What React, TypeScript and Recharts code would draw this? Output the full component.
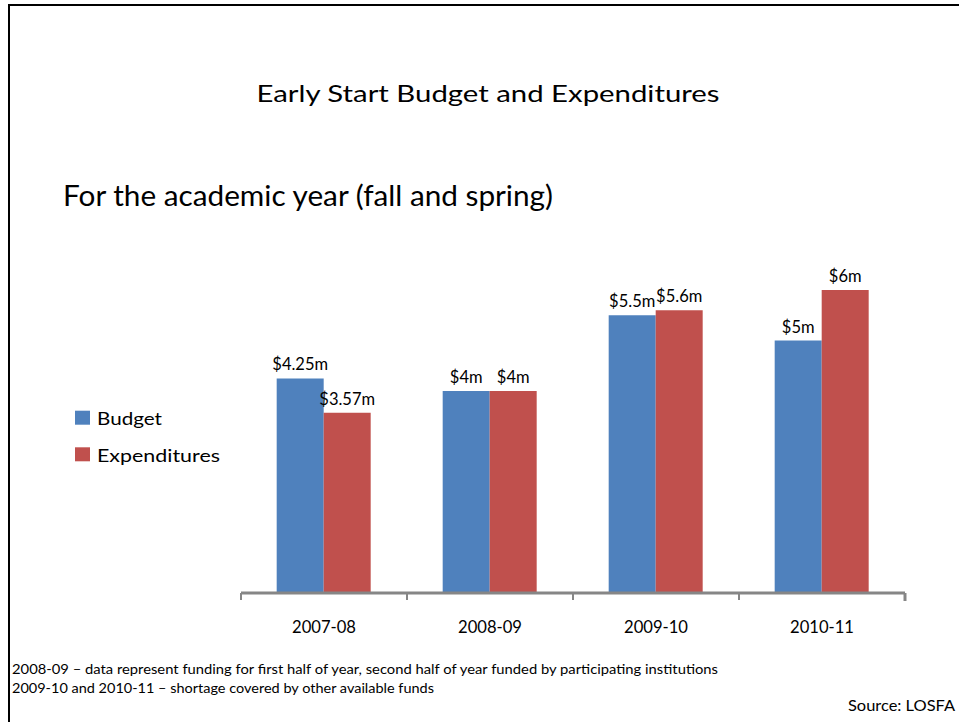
import React from "react";
import { BarChart, Bar, XAxis, YAxis, LabelList } from "recharts";

const years = ["2007-08", "2008-09", "2009-10", "2010-11"];
const budget = [4.25, 4, 5.5, 5];
const expenditures = [3.57, 4, 5.6, 6];

const seriesNames = ["Budget", "Expenditures"];
const seriesColors = ["#4F81BD", "#C0504D"];

const titleText = "Early Start Budget and Expenditures";
const subtitleText = "For the academic year (fall and spring)";
const footnotes = [
  "2008-09 \u2013 data represent funding for first half of year, second half of year funded by participating institutions",
  "2009-10 and 2010-11 \u2013 shortage  covered by other available funds",
];
const sourceText = "Source: LOSFA";

const data = years.map((y, i) => ({ year: y, budget: budget[i], expenditures: expenditures[i] }));

const W = 959;
const H = 722;
const PLOT_LEFT = 241;
const PLOT_RIGHT = 905;
const AXIS_Y = 593;
const BAND = (PLOT_RIGHT - PLOT_LEFT) / years.length;
const FONT = "Lato, 'Open Sans', sans-serif";
const AXIS_GRAY = "#868686";
const LEGEND_TEXT_LEN = [65, 123];

const fmt = (v: any) => `$${v}m`;

const renderTick = (props: any) => {
  const { x, payload, index } = props;
  return (
    <g>
      <text x={x} y={633} textAnchor="middle" fontSize={18} fontFamily={FONT} fill="#000" textLength={64} lengthAdjust="spacingAndGlyphs">
        {payload.value}
      </text>
      <line x1={x - BAND / 2} x2={x - BAND / 2} y1={AXIS_Y} y2={600} stroke={AXIS_GRAY} strokeWidth={2} />
      {index === years.length - 1 && (
        <line x1={x + BAND / 2} x2={x + BAND / 2} y1={AXIS_Y} y2={601} stroke={AXIS_GRAY} strokeWidth={3} />
      )}
    </g>
  );
};

export default function App() {
  return (
    <div
      style={{
        position: "absolute",
        left: 0,
        top: 0,
        width: W,
        height: H,
        background: "#fff",
        overflow: "hidden",
        fontFamily: FONT,
      }}
    >
      <div
        style={{
          position: "absolute",
          left: 7.5,
          top: 3.5,
          width: 1200,
          height: 1000,
          borderTop: "2px solid #000",
          borderLeft: "2.5px solid #000",
        }}
      />
      <svg width={W} height={H} style={{ position: "absolute", left: 0, top: 0 }}>
        <text x={488} y={102} textAnchor="middle" fontSize={24} fontFamily={FONT} fill="#000" textLength={463} lengthAdjust="spacingAndGlyphs">
          {titleText}
        </text>
        <text x={63} y={206} fontSize={29} fontFamily={FONT} fill="#000" textLength={490} lengthAdjust="spacingAndGlyphs">
          {subtitleText}
        </text>
        <text x={12} y={674} fontSize={14} fontFamily={FONT} fill="#000" textLength={706} lengthAdjust="spacingAndGlyphs">
          {footnotes[0]}
        </text>
        <text x={12} y={693} fontSize={14} fontFamily={FONT} fill="#000" textLength={422} lengthAdjust="spacingAndGlyphs">
          {footnotes[1]}
        </text>
        <text x={955} y={711} textAnchor="end" fontSize={16} fontFamily={FONT} fill="#000" textLength={107} lengthAdjust="spacingAndGlyphs">
          {sourceText}
        </text>
        {seriesNames.map((n, i) => (
          <g key={n}>
            <rect x={75} y={410.7 + i * 36.6} width={15} height={14} fill={seriesColors[i]} />
            <text x={97} y={425 + i * 36.6} fontSize={18} fontFamily={FONT} fill="#000" textLength={LEGEND_TEXT_LEN[i]} lengthAdjust="spacingAndGlyphs">
              {n}
            </text>
          </g>
        ))}
      </svg>
      <div style={{ position: "absolute", left: 0, top: 0 }}>
        <BarChart
          width={W}
          height={H}
          data={data}
          margin={{ top: 239.5, right: W - PLOT_RIGHT, bottom: 99, left: PLOT_LEFT }}
          barCategoryGap="21.5%"
          barGap={0}
        >
          <XAxis
            dataKey="year"
            height={30}
            axisLine={{ stroke: AXIS_GRAY, strokeWidth: 3 }}
            tickLine={false}
            tick={renderTick}
            interval={0}
          />
          <YAxis hide domain={[0, 7]} />
          <Bar dataKey="budget" name={seriesNames[0]} fill={seriesColors[0]} isAnimationActive={false}>
            <LabelList dataKey="budget" position="top" offset={8} formatter={fmt} fill="#000" fontSize={16.5} fontFamily={FONT} />
          </Bar>
          <Bar dataKey="expenditures" name={seriesNames[1]} fill={seriesColors[1]} isAnimationActive={false}>
            <LabelList dataKey="expenditures" position="top" offset={8} formatter={fmt} fill="#000" fontSize={16.5} fontFamily={FONT} />
          </Bar>
        </BarChart>
      </div>
    </div>
  );
}
